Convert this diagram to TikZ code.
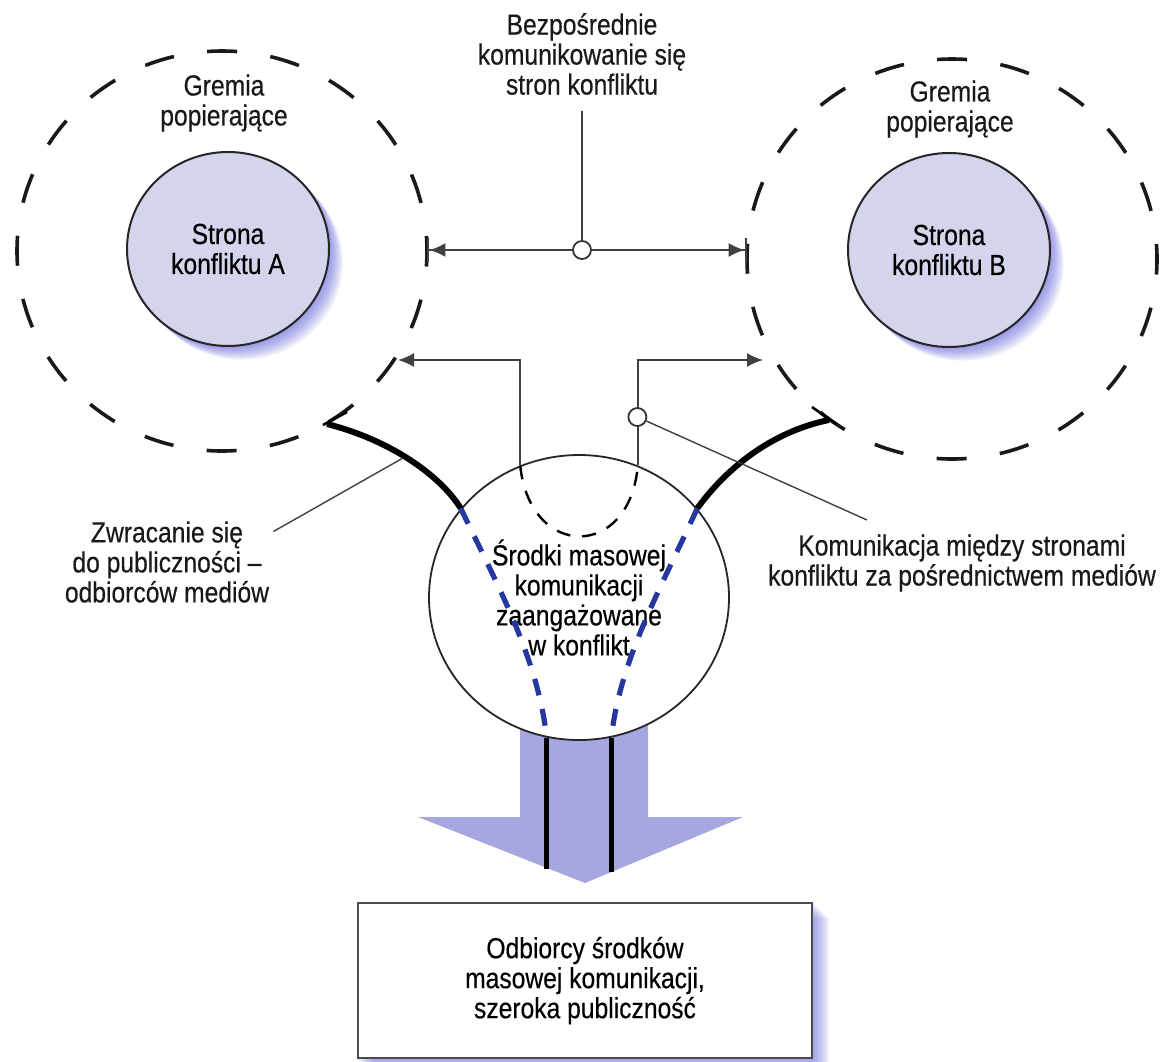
\documentclass[tikz,border=0pt]{standalone}
\usepackage{fontspec}
\setmainfont[FakeStretch=0.85,FakeBold=0.4]{Liberation Sans}
\usetikzlibrary{arrows.meta,shapes.geometric,backgrounds}
\definecolor{lavfill}{RGB}{212,212,236}
\definecolor{arrfill}{RGB}{166,166,224}
\definecolor{glowblue}{RGB}{70,70,210}
\definecolor{mediablue}{RGB}{38,55,160}

\begin{document}
\begin{tikzpicture}[x=0.5pt,y=-0.5pt,font=\fontsize{14.5}{15}\selectfont]
        \tikzstyle{support}=[ellipse,draw=black!90,line width=1.8pt,dash pattern=on 15pt off 16.8pt,dash phase=7.5pt,minimum width=205pt,minimum height=200pt,inner sep=0pt,outer sep=0pt]
        \tikzstyle{party}=[ellipse,draw=black!85,line width=1pt,fill=lavfill,minimum width=101pt,minimum height=97pt,align=center,inner sep=0pt]
        \tikzstyle{mediacircle}=[ellipse,draw=black!85,line width=0.9pt,fill=white,minimum width=150pt,minimum height=142.5pt,align=center,inner sep=0pt]
        \tikzstyle{audience}=[rectangle,draw=black!70,line width=0.8pt,fill=white,minimum width=227pt,minimum height=77.5pt,align=center]
        \tikzstyle{note}=[align=center,inner sep=2pt,text=black!90]
        \tikzstyle{joint}=[circle,draw=black!80,fill=white,line width=0.9pt,minimum size=9pt,inner sep=0pt]
        \tikzstyle{link}=[draw=black!75,line width=0.9pt]
        \tikzstyle{toparty}=[link,-{Latex[length=8pt,width=7pt]}]
        \tikzstyle{direct}=[link,-{Latex[length=8pt,width=7pt]Bar[width=12pt,line width=1.2pt]}]
        \tikzstyle{appeal}=[line width=3pt,black]
        \tikzstyle{hook}=[line width=1.3pt,black]
        \tikzstyle{media}=[mediablue,line width=2.6pt,dash pattern=on 8.5pt off 7pt]

        \useasboundingbox (0,0) rectangle (1162,1061);

       \begin{scope}
         % support groups and parties
         \node [support] (GA) at (222,251) {};
         \node [support] (GB) at (952,259) {};
         \node [note] (grA) at (224,103) {Gremia\\popierające};
         \node [note] (grB) at (950,109) {Gremia\\popierające};
         \node [party] (A) at (228,249) {Strona\\konfliktu A};
         \node [party] (B) at (949,250) {Strona\\konfliktu B};

         \node [note] (top) at (582,54) {Bezpośrednie\\komunikowanie się\\stron konfliktu};
         \node [joint] (d1) at (582,250) {};
         \path[link] (top) edge[shorten <=6pt] (d1);
         \draw[direct] (d1) -- (d1 -| GA.east);
         \draw[direct] (d1) -- (d1 -| GB.west);
       \end{scope}

       \begin{scope}
         % media and audience
         \fill[arrfill] (520,700) -- (520,817) -- (418,817) -- (585,883)
           -- (743,817) -- (648,817) -- (648,700) -- cycle;
         \node [mediacircle] (M) at (579,597.5) {Środki masowej\\komunikacji\\zaangażowane\\w konflikt};
         \node [audience] (R) at (585,980.5) {Odbiorcy środków\\masowej komunikacji,\\szeroka publiczność};

         \coordinate (tipA) at (398,360);
         \coordinate (tipB) at (763,360);
         \draw[toparty] (M.114) |- (tipA);
         \draw[toparty] (M.66) |- (tipB);
         \draw[link,black,line width=1.2pt,dash pattern=on 7pt off 6pt] (M.114) .. controls (530,560) and (630,560) .. (M.66);
         \node [joint] (d2) at (637.4,417) {};

         \coordinate (cL) at (327,424);
         \coordinate (cR) at (829,420);
         \draw[appeal] (cL) .. controls (390,440) and (440,475) .. (M.143);
         \draw[appeal] (cR) .. controls (770,432) and (725,470) .. (M.37);
         \draw[hook] ([shift={(20,-12)}]cL) -- ([shift={(-4,1)}]cL);
         \draw[hook] ([shift={(-17,-13)}]cR) -- ([shift={(7,4)}]cR);
         \draw[media] (M.143) .. controls (500,590) and (538,660) .. (M.-103);
         \draw[media] (M.37) .. controls (660,590) and (620,660) .. (M.-77);
         \draw[line width=2.2pt] (M.-103) -- ++(0,131);
         \draw[line width=2.2pt] (M.-77) -- ++(0,134);

         \node [note] (lblZ) at (167,562) {Zwracanie się\\do publiczności –\\odbiorców mediów};
         \node [note] (lblK) at (962,563) {Komunikacja między stronami\\konfliktu za pośrednictwem mediów};
         \coordinate (zEnd) at (403,458);
         \coordinate (kEnd) at (867,520);
         \draw[link,line width=0.7pt] (lblZ.16) -- (zEnd);
         \draw[link,line width=0.7pt] (d2) -- (kEnd);
       \end{scope}

       \begin{pgfonlayer}{background}
         \foreach \k in {1,...,8} {
           \fill[glowblue,opacity=0.09] ([shift={(1.7*\k,1.7*\k)}]A.center) ellipse [x radius=50.5pt,y radius=48.5pt];
           \fill[glowblue,opacity=0.09] ([shift={(1.7*\k,1.7*\k)}]B.center) ellipse [x radius=50.5pt,y radius=48.5pt];
           \fill[glowblue,opacity=0.08] ([shift={(2*\k,2*\k)}]R.north west) rectangle ([shift={(2*\k,2*\k)}]R.south east);
         }
       \end{pgfonlayer}
\end{tikzpicture}
\end{document}
